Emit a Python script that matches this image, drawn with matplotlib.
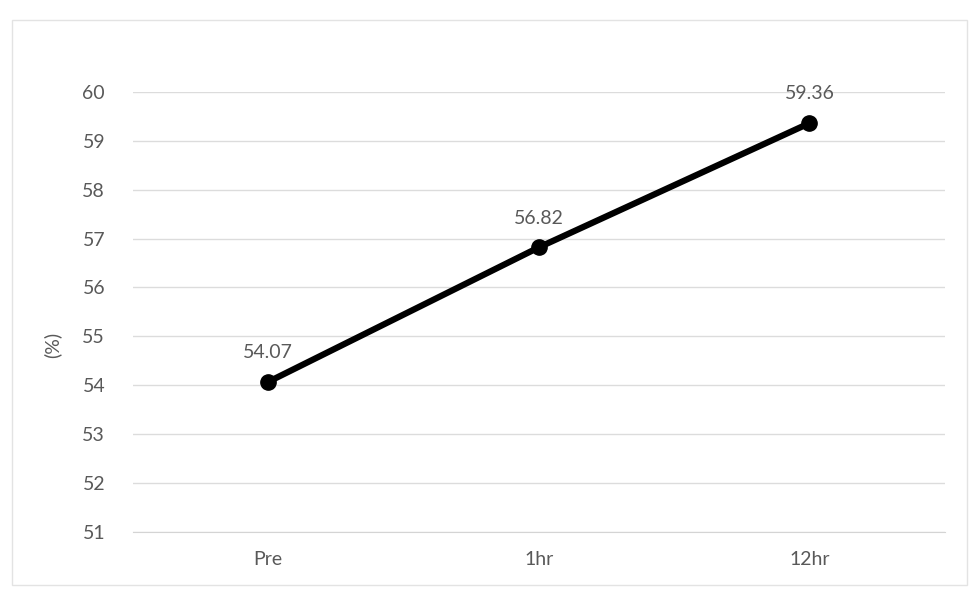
import matplotlib.pyplot as plt
from matplotlib.patches import Rectangle

plt.rcParams["font.family"] = ["Lato", "DejaVu Sans"]

stages = ["Pre", "1hr", "12hr"]
values = [54.07, 56.82, 59.36]
yticks = list(range(51, 61))

fig = plt.figure(figsize=(9.7, 5.9), dpi=100)
ax = fig.add_axes([0.137, 0.0983, 0.837, 0.746])

# chart frame
fig.patches.append(Rectangle((0.012, 0.008), 0.985, 0.958, transform=fig.transFigure,
                             fill=False, edgecolor="#e3e3e3", lw=1))

x = range(len(stages))
ax.plot(x, values, color="black", lw=4.5, marker="o", ms=11, zorder=3,
        solid_capstyle="round")
for xi, v in zip(x, values):
    ax.annotate(f"{v:.2f}", (xi, v), xytext=(0, 15), textcoords="offset points",
                ha="center", va="bottom", fontsize=14, color="#595959")

ax.set_xlim(-0.5, 2.5)
ax.set_ylim(51, 60)
ax.set_yticks(yticks)
ax.set_xticks(list(x))
ax.set_xticklabels(stages)
ax.grid(axis="y", color="#dcdcdc", lw=1)
ax.set_axisbelow(True)
for s in ["top", "right", "left"]:
    ax.spines[s].set_visible(False)
ax.spines["bottom"].set_color("#d4d4d4")
ax.tick_params(length=0, labelsize=14, labelcolor="#595959")
ax.tick_params(axis="y", pad=20)
ax.tick_params(axis="x", pad=14)
ax.set_ylabel("(%)", fontsize=14, color="#595959")
ax.yaxis.set_label_coords(-0.088, 0.425)

fig.savefig("out.png", dpi=100, facecolor="white")
